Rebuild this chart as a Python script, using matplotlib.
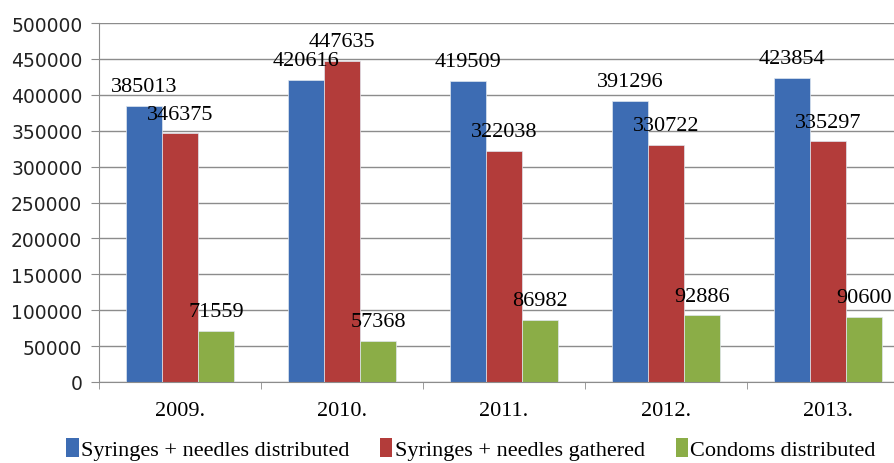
import numpy as np
import matplotlib.pyplot as plt
from matplotlib.patches import Patch

years = ["2009.", "2010.", "2011.", "2012.", "2013."]
series = ["Syringes + needles distributed", "Syringes + needles gathered", "Condoms distributed"]
distributed = [385013, 420616, 419509, 391296, 423854]
gathered = [346375, 447635, 322038, 330722, 335297]
condoms = [71559, 57368, 86982, 92886, 90600]
colors = ["#3D6CB3", "#B33C3A", "#8BAD47"]

SERIF = ["Liberation Serif", "DejaVu Serif"]

fig = plt.figure(figsize=(8.95, 4.64), dpi=100)
ax = fig.add_axes([99/895, 1-383/464, 810/895, 359/464])

x = np.arange(len(years))
w = 2/9
for i, (vals, c) in enumerate(zip([distributed, gathered, condoms], colors)):
    pos = x + (i-1)*w
    ax.bar(pos, vals, width=w, color=c, edgecolor="#dfe6ef", linewidth=0.5, zorder=2)
    for px, v in zip(pos, vals):
        ax.annotate(str(v), (px, v), xytext=(0, 7), textcoords="offset points",
                    ha="center", va="bottom", fontsize=16, family=SERIF, color="black", zorder=3)

ax.set_xlim(-0.5, len(years)-0.5)
ax.set_ylim(0, 500000)
ax.set_yticks(np.arange(0, 500001, 50000))
ax.yaxis.grid(True, color="#8c8c8c", linewidth=1.0, zorder=0)
ax.set_axisbelow(True)
ax.tick_params(axis="y", length=6, color="#8c8c8c", labelsize=13.5, pad=6, labelcolor="#222222")
ax.set_yticklabels([str(v) for v in range(0, 500001, 50000)], family="DejaVu Sans")

ax.set_xticks(x)
ax.set_xticklabels(years, fontsize=16, family=SERIF)
ax.tick_params(axis="x", which="major", length=0, pad=14)
ax.set_xticks(np.arange(-0.5, len(years)), minor=True)
ax.tick_params(axis="x", which="minor", length=5, color="#8c8c8c")

for s in ["top", "right"]:
    ax.spines[s].set_visible(False)
for s in ["left", "bottom"]:
    ax.spines[s].set_color("#8c8c8c")

handles = [Patch(facecolor=c, edgecolor="none") for c in colors]
fig.legend(handles, series, loc="center", bbox_to_anchor=(471/895, 1-450/464), ncol=3,
           frameon=False, prop={"family": SERIF, "size": 16}, handlelength=0.55, handleheight=0.9,
           handletextpad=0.1, columnspacing=1.4)

fig.savefig("out.png", dpi=100)
